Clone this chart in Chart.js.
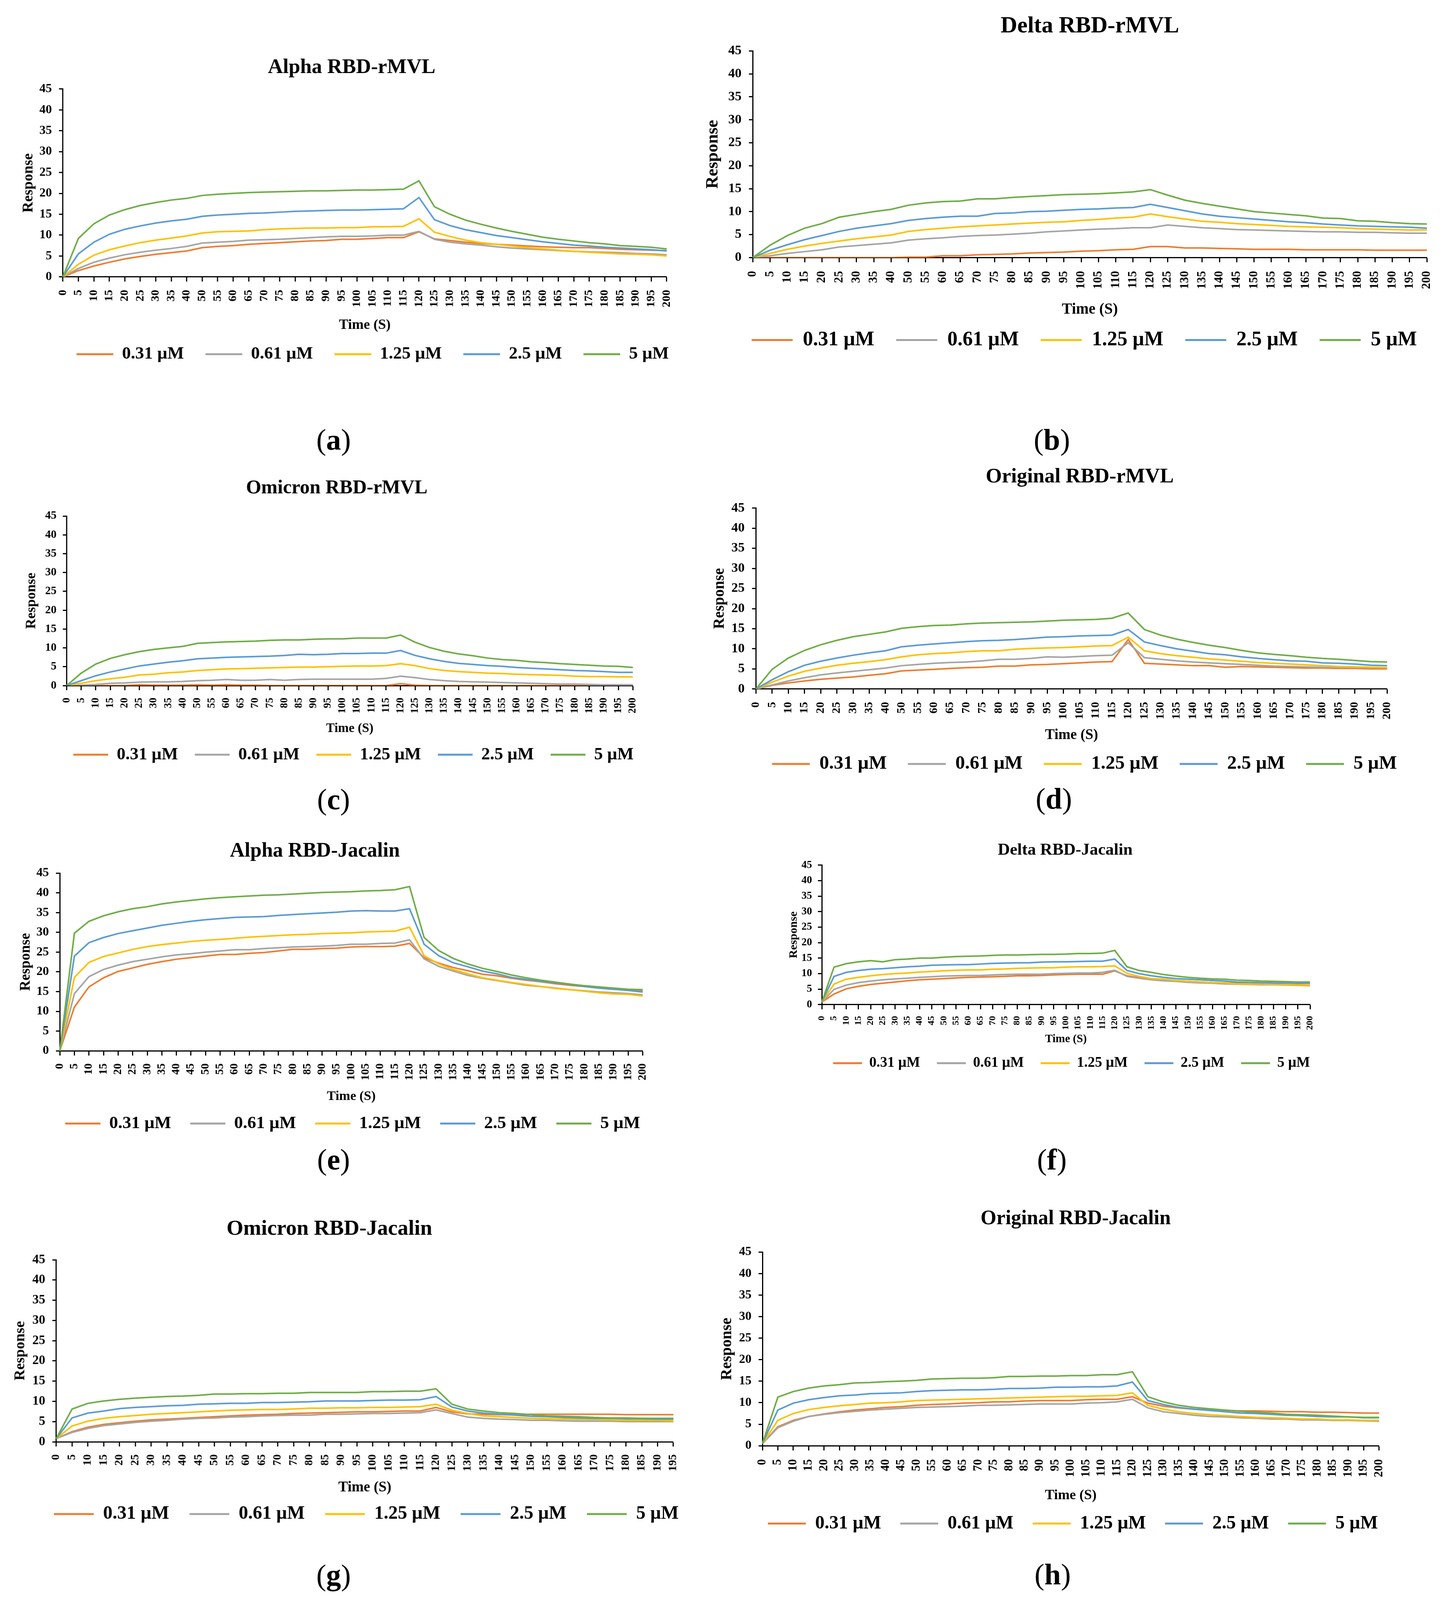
<!DOCTYPE html>
<html><head><meta charset="utf-8">
<script src="https://cdn.jsdelivr.net/npm/chart.js@4.4.1/dist/chart.umd.min.js"></script>
<style>
html,body{margin:0;padding:0;background:#fff;}
body{width:3720px;height:4127px;position:relative;overflow:hidden;}
.panel{position:absolute;}
.lab{position:absolute;font-family:'Liberation Serif',serif;font-size:76px;color:#000;transform:translate(-50%,-50%);line-height:1;white-space:nowrap;}
</style></head><body>
<script>
// ---------- categories ----------
const timesSkip45 = [0,5,10,15,20,25,30,35,40,50,55,60,65,70,75,80,85,90,95,100,105,110,115,120,125,130,135,140,145,150,155,160,165,170,175,180,185,190,195,200];
const timesFull = [0,5,10,15,20,25,30,35,40,45,50,55,60,65,70,75,80,85,90,95,100,105,110,115,120,125,130,135,140,145,150,155,160,165,170,175,180,185,190,195,200];
const timesTo195 = [0,5,10,15,20,25,30,35,40,45,50,55,60,65,70,75,80,85,90,95,100,105,110,115,120,125,130,135,140,145,150,155,160,165,170,175,180,185,190,195];
const seriesLabels = ['0.31 µM','0.61 µM','1.25 µM','2.5 µM','5 µM'];

// ---------- (a) Alpha RBD-rMVL ----------
const alphaRmvl031 = [0,1.5,2.6,3.5,4.3,4.9,5.4,5.8,6.2,7.0,7.3,7.5,7.8,8.0,8.2,8.4,8.6,8.7,9.0,9.0,9.2,9.4,9.4,10.8,9.1,8.7,8.3,8.0,7.8,7.6,7.4,7.2,7.1,7.0,7.0,6.8,6.6,6.5,6.4,6.3];
const alphaRmvl061 = [0,2.0,3.5,4.5,5.3,5.9,6.4,6.8,7.3,8.1,8.3,8.5,8.8,8.9,9.0,9.2,9.4,9.6,9.7,9.7,9.8,10.0,10.0,10.9,9.0,8.3,7.9,7.6,7.2,6.9,6.7,6.5,6.3,6.1,6.0,5.9,5.8,5.6,5.5,5.3];
const alphaRmvl125 = [0,3.0,5.2,6.5,7.4,8.2,8.8,9.3,9.8,10.5,10.8,10.9,11.0,11.3,11.5,11.6,11.7,11.7,11.8,11.8,12.0,12.0,12.1,13.9,10.7,9.7,8.8,8.2,7.8,7.4,7.0,6.7,6.4,6.1,5.9,5.7,5.5,5.4,5.3,5.0];
const alphaRmvl25 = [0,5.5,8.3,10.2,11.4,12.2,12.9,13.4,13.8,14.5,14.8,15.0,15.2,15.3,15.5,15.7,15.8,15.9,16.0,16.0,16.1,16.2,16.3,19.0,13.7,12.3,11.3,10.6,9.9,9.4,8.9,8.4,8.0,7.6,7.4,7.1,6.9,6.7,6.5,6.2];
const alphaRmvl5 = [0,9.2,12.7,14.8,16.1,17.1,17.8,18.4,18.8,19.5,19.8,20.0,20.2,20.3,20.4,20.5,20.6,20.6,20.7,20.8,20.8,20.9,21.0,23.0,16.8,15.0,13.6,12.6,11.7,10.9,10.2,9.5,9.0,8.6,8.2,7.9,7.5,7.3,7.1,6.7];

// ---------- (b) Delta RBD-rMVL ----------
const deltaRmvl031 = [0,0,0,0,0,0,0,0,0,0.1,0.1,0.4,0.4,0.6,0.7,0.8,1.0,1.1,1.2,1.4,1.5,1.7,1.8,2.4,2.4,2.1,2.1,2.0,1.9,1.8,1.8,1.8,1.7,1.7,1.7,1.7,1.6,1.6,1.6,1.6];
const deltaRmvl061 = [0,0.4,0.9,1.3,1.7,2.3,2.6,2.9,3.2,3.8,4.1,4.3,4.6,4.8,4.9,5.1,5.3,5.6,5.8,6.0,6.2,6.3,6.5,6.5,7.1,6.8,6.5,6.3,6.1,6.0,5.9,5.8,5.7,5.6,5.6,5.5,5.5,5.4,5.3,5.3];
const deltaRmvl125 = [0,0.9,1.8,2.5,3.1,3.6,4.1,4.5,4.9,5.7,6.1,6.4,6.7,6.9,7.1,7.3,7.5,7.7,7.8,8.1,8.3,8.6,8.8,9.5,8.9,8.4,7.9,7.7,7.4,7.2,7.0,6.8,6.7,6.6,6.5,6.3,6.2,6.1,6.0,6.0];
const deltaRmvl25 = [0,1.6,2.8,3.9,4.8,5.7,6.4,6.9,7.4,8.1,8.5,8.8,9.0,9.0,9.6,9.7,10.0,10.1,10.3,10.5,10.6,10.8,10.9,11.6,10.9,10.2,9.5,9.0,8.7,8.4,8.1,7.8,7.6,7.3,7.1,6.9,6.8,6.7,6.6,6.4];
const deltaRmvl5 = [0,2.7,4.8,6.4,7.4,8.8,9.4,10.0,10.5,11.4,11.9,12.2,12.3,12.8,12.8,13.1,13.3,13.5,13.7,13.8,13.9,14.1,14.3,14.8,13.6,12.5,11.8,11.2,10.6,10.0,9.7,9.4,9.1,8.6,8.5,8.0,7.9,7.6,7.4,7.3];

// ---------- (c) Omicron RBD-rMVL ----------
const omicronRmvl031 = [0,0,0,0,0,0.2,0.1,0.1,0.1,0.2,0.1,0.2,0.1,0.1,0,0,0,0,0,0,0,0,0,0.5,0.1,0,0,0,0,0,0,0,0,0,0,0,0,0,0,0];
const omicronRmvl061 = [0,0.1,0.3,0.6,0.7,0.9,1.0,1.0,1.1,1.3,1.4,1.6,1.4,1.4,1.6,1.4,1.6,1.7,1.7,1.7,1.7,1.7,1.9,2.5,2.1,1.6,1.3,1.1,1.0,0.9,0.8,0.7,0.6,0.5,0.4,0.4,0.3,0.2,0.2,0.2];
const omicronRmvl125 = [0,0.6,1.3,1.8,2.2,2.8,3.0,3.4,3.6,4.0,4.2,4.4,4.5,4.6,4.7,4.8,4.9,4.9,5.0,5.1,5.2,5.2,5.3,5.8,5.3,4.5,4.0,3.7,3.5,3.3,3.2,3.0,2.9,2.8,2.7,2.5,2.4,2.4,2.3,2.3];
const omicronRmvl25 = [0,1.3,2.6,3.6,4.4,5.2,5.7,6.2,6.6,7.1,7.3,7.5,7.6,7.7,7.8,8.0,8.3,8.2,8.3,8.5,8.5,8.6,8.6,9.3,8.0,7.1,6.4,5.9,5.6,5.3,5.1,4.8,4.6,4.4,4.2,4.0,3.9,3.7,3.5,3.5];
const omicronRmvl5 = [0,3.3,5.7,7.2,8.2,9.0,9.6,10.0,10.4,11.2,11.4,11.6,11.7,11.8,12.0,12.1,12.1,12.3,12.4,12.4,12.6,12.6,12.6,13.4,11.5,10.1,9.1,8.4,7.9,7.3,6.9,6.7,6.3,6.1,5.8,5.6,5.4,5.2,5.1,4.8];

// ---------- (d) Original RBD-rMVL ----------
const originalRmvl031 = [0,0.9,1.5,2.0,2.4,2.7,3.0,3.4,3.8,4.5,4.7,4.9,5.1,5.3,5.4,5.7,5.7,6.0,6.1,6.3,6.5,6.7,6.8,12.3,6.4,6.2,6.0,5.8,5.8,5.4,5.6,5.5,5.4,5.3,5.2,5.2,5.1,5.1,5.0,5.0];
const originalRmvl061 = [0,1.0,2.0,2.8,3.5,4.0,4.4,4.8,5.2,5.8,6.1,6.4,6.6,6.7,7.0,7.4,7.4,7.6,8.0,7.9,8.1,8.3,8.4,11.5,7.8,7.4,7.0,6.7,6.5,6.3,6.1,5.9,5.7,5.6,5.5,5.4,5.3,5.3,5.3,5.3];
const originalRmvl125 = [0,1.7,3.2,4.4,5.2,5.9,6.4,6.8,7.3,8.0,8.5,8.8,9.0,9.3,9.5,9.5,9.9,10.1,10.2,10.3,10.5,10.7,10.8,12.9,9.5,8.8,8.3,7.9,7.5,7.2,6.9,6.6,6.4,6.2,6.0,5.8,5.6,5.5,5.4,5.3];
const originalRmvl25 = [0,2.3,4.3,5.9,6.9,7.7,8.4,9.0,9.5,10.5,10.9,11.2,11.5,11.8,12.0,12.1,12.3,12.6,12.9,13.0,13.2,13.3,13.4,14.8,11.7,10.8,10.0,9.4,8.8,8.5,8.0,7.6,7.3,7.0,6.9,6.5,6.4,6.2,5.9,5.8];
const originalRmvl5 = [0,4.9,7.7,9.6,11.0,12.1,13.0,13.6,14.2,15.1,15.5,15.8,15.9,16.2,16.4,16.5,16.6,16.7,16.9,17.1,17.2,17.3,17.6,18.9,14.8,13.4,12.4,11.6,10.9,10.3,9.6,9.0,8.6,8.3,7.9,7.6,7.4,7.1,6.8,6.7];

// ---------- (e) Alpha RBD-Jacalin ----------
const alphaJac031 = [0,11.1,16.2,18.5,20.1,21.0,21.9,22.6,23.2,23.6,24.0,24.4,24.4,24.7,24.9,25.3,25.7,25.7,25.9,26.0,26.3,26.4,26.4,26.5,27.2,23.6,22.2,21.1,20.3,19.4,19.0,18.4,17.9,17.5,17.0,16.6,16.3,15.9,15.6,15.5,15.2];
const alphaJac061 = [0,14.5,18.8,20.6,21.7,22.6,23.2,23.8,24.3,24.6,25.0,25.3,25.6,25.6,25.9,26.1,26.3,26.4,26.5,26.7,27.0,27.0,27.2,27.3,28.1,23.3,21.4,20.2,19.1,18.4,17.8,17.2,16.6,16.3,15.9,15.5,15.2,14.9,14.7,14.5,14.2];
const alphaJac125 = [0,18.6,22.4,23.9,24.8,25.7,26.4,26.9,27.3,27.7,28.0,28.2,28.5,28.8,29.0,29.2,29.4,29.5,29.7,29.8,29.9,30.1,30.2,30.3,31.3,24.1,22.0,20.6,19.5,18.5,17.9,17.3,16.8,16.3,15.8,15.5,15.1,14.7,14.4,14.3,13.9];
const alphaJac25 = [0,24.0,27.4,28.7,29.7,30.4,31.1,31.8,32.3,32.8,33.2,33.5,33.8,33.9,34.0,34.3,34.5,34.7,34.9,35.1,35.4,35.5,35.4,35.4,36.0,27.0,24.1,22.3,21.3,20.2,19.5,18.6,18.1,17.6,17.2,16.8,16.3,15.9,15.6,15.3,14.9];
const alphaJac5 = [0,29.8,32.8,34.2,35.2,36.0,36.5,37.2,37.7,38.1,38.5,38.8,39.0,39.2,39.4,39.5,39.7,39.9,40.1,40.2,40.3,40.5,40.6,40.8,41.6,28.7,25.4,23.4,22.0,20.9,20.1,19.2,18.5,17.9,17.4,16.9,16.5,16.2,15.9,15.6,15.5];

// ---------- (f) Delta RBD-Jacalin ----------
const deltaJac031 = [0.8,3.4,5.1,5.9,6.5,6.9,7.3,7.7,8.0,8.2,8.4,8.6,8.8,8.9,9.0,9.1,9.3,9.3,9.4,9.6,9.7,9.8,9.8,9.8,10.9,9.3,8.7,8.2,7.9,7.7,7.5,7.3,7.1,7.0,6.9,6.7,6.7,6.6,6.5,6.4,6.3];
const deltaJac061 = [0.8,4.9,6.3,7.1,7.6,8.0,8.3,8.5,8.8,9.0,9.2,9.3,9.4,9.4,9.6,9.7,9.8,9.8,9.8,10.0,10.1,10.2,10.2,10.4,11.1,9.1,8.5,8.0,7.7,7.5,7.2,7.0,6.9,6.7,6.6,6.5,6.4,6.4,6.3,6.2,6.1];
const deltaJac125 = [0.8,6.6,8.2,8.8,9.3,9.7,10.0,10.2,10.5,10.7,10.9,11.1,11.2,11.2,11.4,11.5,11.7,11.8,11.9,11.9,12.1,12.2,12.2,12.3,12.5,10.1,9.1,8.4,8.2,7.8,7.5,7.3,7.1,7.0,6.7,6.6,6.6,6.5,6.4,6.3,6.2];
const deltaJac25 = [0.8,9.1,10.4,11.0,11.4,11.6,11.9,12.2,12.4,12.7,12.8,12.9,12.9,13.1,13.3,13.4,13.5,13.5,13.7,13.8,13.8,13.9,14.0,14.0,14.7,11.0,10.0,9.3,8.8,8.4,8.2,8.0,7.8,7.6,7.3,7.2,7.1,7.0,7.0,6.9,6.9];
const deltaJac5 = [0.8,12.1,13.2,13.8,14.2,13.8,14.5,14.7,15.0,15.0,15.3,15.5,15.6,15.7,15.9,16.0,16.0,16.1,16.2,16.2,16.3,16.5,16.5,16.6,17.5,12.2,11.0,10.4,9.7,9.2,8.8,8.5,8.3,8.2,7.9,7.8,7.6,7.5,7.4,7.3,7.3];

// ---------- (g) Omicron RBD-Jacalin ----------
const omicronJac031 = [0.8,2.5,3.6,4.3,4.7,5.1,5.4,5.6,5.8,6.0,6.2,6.4,6.6,6.7,6.8,7.0,7.1,7.2,7.3,7.4,7.4,7.5,7.6,7.6,8.5,7.4,6.9,6.8,6.7,6.7,6.8,6.8,6.8,6.8,6.8,6.8,6.7,6.7,6.7,6.7];
const omicronJac061 = [0.8,2.3,3.3,4.0,4.4,4.8,5.1,5.3,5.6,5.8,5.9,6.1,6.2,6.4,6.5,6.6,6.6,6.8,6.8,6.9,7.0,7.0,7.1,7.2,7.9,7.0,6.1,5.8,5.6,5.5,5.3,5.3,5.2,5.1,5.1,5.1,5.0,5.0,5.0,5.0];
const omicronJac125 = [0.8,3.9,5.1,5.8,6.2,6.5,6.8,7.0,7.2,7.4,7.6,7.8,7.9,8.0,8.0,8.1,8.3,8.3,8.4,8.4,8.5,8.5,8.6,8.7,9.3,7.8,7.0,6.4,6.2,6.0,5.8,5.7,5.6,5.5,5.5,5.4,5.3,5.3,5.3,5.2];
const omicronJac25 = [0.8,5.9,7.1,7.6,8.2,8.5,8.7,8.9,9.0,9.3,9.4,9.5,9.5,9.7,9.7,9.8,9.9,10.1,10.1,10.1,10.2,10.3,10.3,10.4,11.2,8.6,7.6,7.1,6.8,6.6,6.3,6.2,6.0,5.9,5.8,5.8,5.7,5.7,5.6,5.6];
const omicronJac5 = [0.8,8.1,9.5,10.1,10.5,10.8,11.0,11.2,11.3,11.5,11.8,11.8,11.9,11.9,12.0,12.0,12.2,12.2,12.2,12.2,12.4,12.4,12.5,12.5,13.1,9.3,8.1,7.6,7.2,7.0,6.7,6.4,6.3,6.2,6.0,5.9,5.9,5.8,5.8,5.8];

// ---------- (h) Original RBD-Jacalin ----------
const originalJac031 = [0.5,4.4,5.9,6.8,7.4,7.9,8.3,8.6,8.9,9.1,9.4,9.6,9.7,9.9,10.0,10.2,10.2,10.4,10.5,10.5,10.5,10.7,10.8,10.8,11.4,9.9,9.2,8.8,8.5,8.3,8.2,8.1,8.1,8.0,7.9,7.9,7.8,7.8,7.7,7.6,7.6];
const originalJac061 = [0.5,4.2,5.7,6.8,7.3,7.7,8.0,8.3,8.5,8.7,8.9,9.0,9.1,9.2,9.4,9.4,9.5,9.6,9.7,9.7,9.7,9.9,10.0,10.2,10.8,8.8,7.9,7.5,7.1,6.8,6.7,6.5,6.4,6.2,6.2,6.0,6.0,5.9,5.9,5.8,5.7];
const originalJac125 = [0.5,5.9,7.5,8.4,8.9,9.3,9.6,9.9,10.0,10.2,10.5,10.6,10.7,10.8,10.9,11.0,11.1,11.2,11.3,11.4,11.5,11.5,11.6,11.7,12.3,9.4,8.5,7.9,7.5,7.2,7.0,6.8,6.6,6.5,6.4,6.2,6.2,6.0,6.0,5.9,5.9];
const originalJac25 = [0.5,8.3,9.9,10.7,11.2,11.6,11.8,12.1,12.2,12.3,12.6,12.8,12.9,13.0,13.0,13.1,13.3,13.3,13.4,13.6,13.6,13.7,13.7,13.9,14.8,10.5,9.6,8.9,8.5,8.2,7.9,7.6,7.5,7.3,7.1,7.0,6.8,6.7,6.7,6.5,6.5];
const originalJac5 = [0.5,11.3,12.6,13.4,13.9,14.2,14.6,14.7,14.9,15.0,15.2,15.5,15.6,15.7,15.7,15.8,16.1,16.1,16.2,16.2,16.3,16.3,16.5,16.5,17.2,11.4,10.2,9.4,8.9,8.6,8.3,8.0,7.8,7.6,7.3,7.2,7.1,6.9,6.7,6.6,6.6];

// ---------- panels ----------
const panels = [
  {key:'a', title:'Alpha RBD-rMVL', times:timesSkip45, series:[alphaRmvl031,alphaRmvl061,alphaRmvl125,alphaRmvl25,alphaRmvl5]},
  {key:'b', title:'Delta RBD-rMVL', times:timesSkip45, series:[deltaRmvl031,deltaRmvl061,deltaRmvl125,deltaRmvl25,deltaRmvl5]},
  {key:'c', title:'Omicron RBD-rMVL', times:timesSkip45, series:[omicronRmvl031,omicronRmvl061,omicronRmvl125,omicronRmvl25,omicronRmvl5]},
  {key:'d', title:'Original RBD-rMVL', times:timesSkip45, series:[originalRmvl031,originalRmvl061,originalRmvl125,originalRmvl25,originalRmvl5]},
  {key:'e', title:'Alpha RBD-Jacalin', times:timesFull, series:[alphaJac031,alphaJac061,alphaJac125,alphaJac25,alphaJac5]},
  {key:'f', title:'Delta RBD-Jacalin', times:timesFull, series:[deltaJac031,deltaJac061,deltaJac125,deltaJac25,deltaJac5]},
  {key:'g', title:'Omicron RBD-Jacalin', times:timesTo195, series:[omicronJac031,omicronJac061,omicronJac125,omicronJac25,omicronJac5]},
  {key:'h', title:'Original RBD-Jacalin', times:timesFull, series:[originalJac031,originalJac061,originalJac125,originalJac25,originalJac5]}
];

// ---------- layout (page pixels) ----------
const LAYOUT = {
  a:{x0:161,x1:1713,yT:228,yB:709,tX:900,tY:174,tS:53,rX:73,rS:38,mY:833,mS:36,lgY:907,lgS:45,lgX:196,lgBox:102,lgPad:47,ytS:32,xtS:30,labX:854,labY:1125},
  b:{x0:1927,x1:3662,yT:130,yB:659,tX:2790,tY:67,tS:59,rX:1825,rS:44,mY:793,mS:39,lgY:870,lgS:52,lgX:1924,lgBox:113,lgPad:48,ytS:34,xtS:31,labX:2693,labY:1125},
  c:{x0:171,x1:1621,yT:1321,yB:1755,tX:862,tY:1250,tS:50,rX:81,rS:36,mY:1865,mS:33,lgY:1932,lgS:44.5,lgX:188,lgBox:97,lgPad:35,ytS:29,xtS:27,labX:854,labY:2046},
  d:{x0:1935,x1:3558,yT:1301,yB:1764,tX:2764,tY:1222,tS:53,rX:1843,rS:39,mY:1883,mS:37,lgY:1956,lgS:49,lgX:1976,lgBox:105,lgPad:46,ytS:34,xtS:30,labX:2698,labY:2044},
  e:{x0:153,x1:1650,yT:2235,yB:2690,tX:806,tY:2179,tS:52,rX:66,rS:37,mY:2807,mS:34,lgY:2876,lgS:45,lgX:167,lgBox:98,lgPad:41,ytS:32,xtS:29,labX:854,labY:2968},
  f:{x0:2104,x1:3354,yT:2215,yB:2572,tX:2727,tY:2177,tS:43,rX:2032,rS:30,mY:2661,mS:29,lgY:2722,lgS:37,lgX:2133,lgBox:82,lgPad:35,ytS:27,xtS:24,labX:2693,labY:2968},
  g:{x0:144,x1:1728,yT:3225,yB:3691,tX:843,tY:3147,tS:55,rX:52,rS:38,mY:3808,mS:37,lgY:3876,lgS:48,lgX:138,lgBox:110,lgPad:44,ytS:33,xtS:29,labX:854,labY:4032},
  h:{x0:1952,x1:3540,yT:3205,yB:3701,tX:2754,tY:3120,tS:52,rX:1862,rS:40,mY:3829,mS:36,lgY:3900,lgS:48,lgX:1966,lgBox:105,lgPad:41,ytS:32,xtS:31,labX:2695,labY:4030}
};

const FONT = "'Liberation Serif', 'Times New Roman', serif";
const COLORS = ['#ED7D31','#A5A5A5','#FFC000','#5B9BD5','#70AD47'];
Chart.defaults.font.family = FONT;
Chart.defaults.color = '#000';

// moves title / legend rows to their measured horizontal places
const panelShift = {
  id: 'panelShift',
  beforeDraw(chart, args, opts) {
    const t = chart.titleBlock;
    if (t && opts.titleX != null) {
      const dx = opts.titleX - (t.left + t.right) / 2;
      t.left += dx; t.right += dx;
    }
    const lg = chart.legend;
    if (lg && opts.legendX != null && lg.lineWidths) {
      const pad = lg.options.labels.padding;
      const cur = (lg.left + pad + lg.right - lg.lineWidths[0]) / 2;
      const dx = opts.legendX - cur;
      lg.left += dx; lg.right += dx;
    }
  }
};

function buildPanel(p) {
  const g = LAYOUT[p.key];
  const EXT = 150;
  const L = g.rX - 0.6 * g.rS - EXT;
  const padR = 50;
  const W = g.x1 + padR - L;
  const T = g.tY - 2 - 0.6 * g.tS;
  const titlePadB = g.yT - g.tY - 0.6 * g.tS;
  const boxW = g.lgBox - 8;          // legend line length
  const lgPad = g.lgPad + 8;         // keeps item spacing
  const legTop = g.lgY - lgPad - g.lgS / 2;
  const xH = legTop - g.yB;
  const xTitlePadB = legTop - g.mY - 0.6 * g.mS;
  const H = legTop + g.lgS + lgPad + 10 - T;
  const yW = g.x0 - L;

  const div = document.createElement('div');
  div.className = 'panel';
  div.style.left = L + 'px'; div.style.top = T + 'px';
  div.style.width = W + 'px'; div.style.height = H + 'px';
  const cv = document.createElement('canvas');
  div.appendChild(cv);
  document.body.appendChild(div);

  const lab = document.createElement('div');
  lab.className = 'lab';
  lab.style.left = g.labX + 'px'; lab.style.top = g.labY + 'px';
  lab.innerHTML = '(<b>' + p.key + '</b>)';
  document.body.appendChild(lab);

  new Chart(cv, {
    type: 'line',
    data: {
      labels: p.times,
      datasets: p.series.map((vals, i) => ({
        label: seriesLabels[i], data: vals,
        borderColor: COLORS[i], backgroundColor: COLORS[i],
        borderWidth: 4, pointRadius: 0, pointHoverRadius: 0, pointBorderWidth: 5,
        tension: 0, fill: false, order: 5 - i
      }))
    },
    options: {
      responsive: true, maintainAspectRatio: false, animation: false,
      events: [],
      layout: {padding: {left: 0, right: padR, top: 0, bottom: 0}},
      plugins: {
        title: {display: true, text: p.title, color: '#000',
          font: {size: g.tS, weight: 'bold'}, padding: {top: 2, bottom: titlePadB}},
        legend: {position: 'bottom', labels: {
          usePointStyle: true, pointStyle: 'line', pointStyleWidth: boxW, boxHeight: 5,
          font: {size: g.lgS, weight: 'bold'}, color: '#000', padding: lgPad,
          sort: (a, b) => a.datasetIndex - b.datasetIndex}},
        tooltip: {enabled: false},
        panelShift: {titleX: g.tX - L, legendX: g.lgX - L}
      },
      scales: {
        x: {
          offset: false,
          ticks: {autoSkip: false, minRotation: 90, maxRotation: 90, color: '#000',
            font: {size: g.xtS, weight: 'bold'}, padding: Math.round(0.7 * g.xtS)},
          grid: {display: true, drawOnChartArea: false, drawTicks: true, tickLength: 12,
            tickWidth: 3, tickColor: '#000', offset: false},
          border: {display: true, color: '#000', width: 3},
          title: {display: true, text: 'Time (S)', color: '#000',
            font: {size: g.mS, weight: 'bold'}, padding: {top: 0, bottom: xTitlePadB}},
          afterFit: (s) => { s.height = xH; }
        },
        y: {
          min: 0, max: 45,
          ticks: {stepSize: 5, color: '#000', font: {size: g.ytS, weight: 'bold'},
            padding: Math.round(0.55 * g.ytS)},
          grid: {display: true, drawOnChartArea: false, drawTicks: true, tickLength: 10,
            tickWidth: 3, tickColor: '#000'},
          border: {display: true, color: '#000', width: 3},
          title: {display: true, text: 'Response', color: '#000',
            font: {size: g.rS, weight: 'bold'}, padding: {top: EXT, bottom: 0}},
          afterFit: (s) => { s.width = yW; }
        }
      }
    },
    plugins: [panelShift]
  });
}

panels.forEach(buildPanel);
</script>
</body></html>
